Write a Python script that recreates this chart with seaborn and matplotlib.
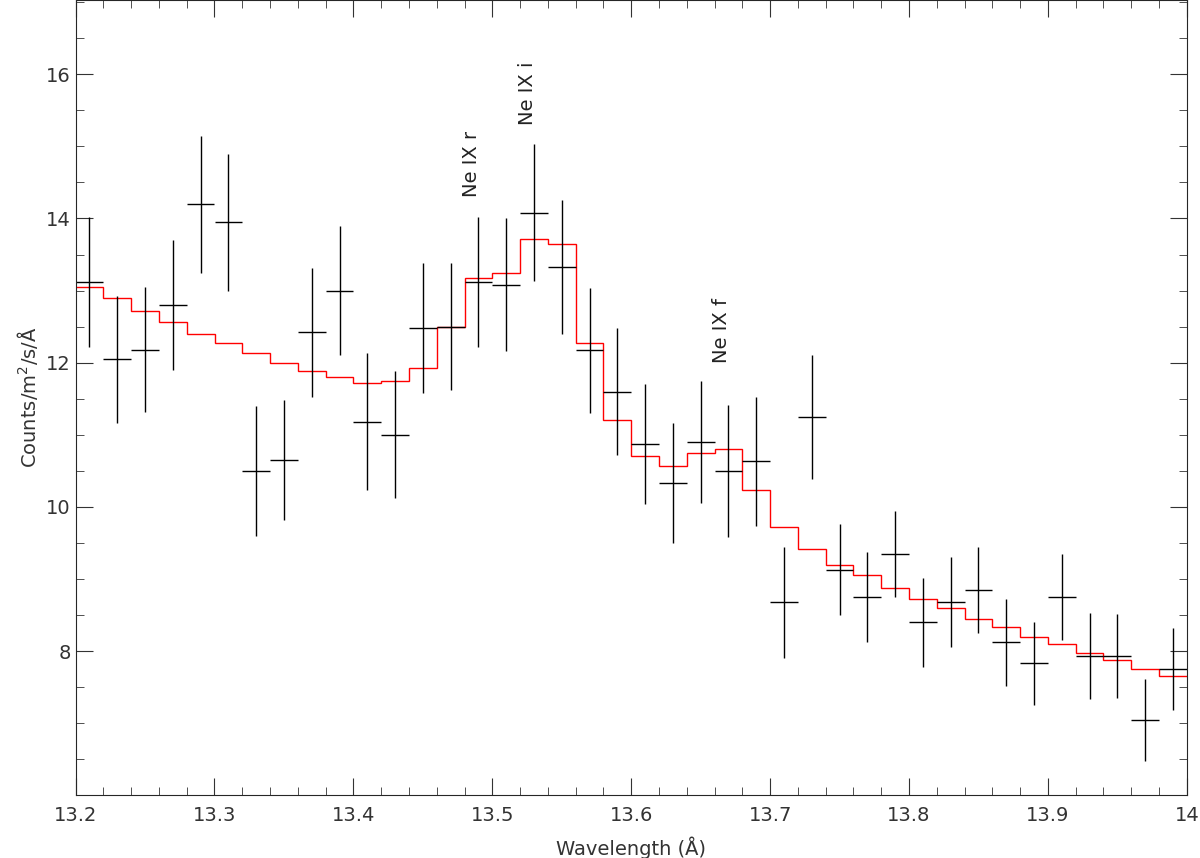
import numpy as np
import pandas as pd
import matplotlib
matplotlib.use("Agg")
import matplotlib.pyplot as plt
import seaborn as sns
from matplotlib.ticker import MultipleLocator

# --- data ---
wave = np.round(np.arange(13.21, 14.0, 0.02), 2)
flux = [13.12, 12.05, 12.18, 12.80, 14.20, 13.95, 10.50, 10.65, 12.42, 13.00,
        11.18, 11.00, 12.48, 12.50, 13.12, 13.08, 14.08, 13.33, 12.17, 11.60,
        10.87, 10.33, 10.90, 10.50, 10.63, 8.68, 11.25, 9.13, 8.75, 9.35,
        8.40, 8.68, 8.85, 8.12, 7.83, 8.75, 7.93, 7.93, 7.05, 7.75]
err = [0.90, 0.88, 0.87, 0.90, 0.95, 0.95, 0.90, 0.83, 0.90, 0.90,
       0.95, 0.88, 0.90, 0.88, 0.90, 0.92, 0.95, 0.93, 0.87, 0.88,
       0.83, 0.83, 0.85, 0.92, 0.90, 0.77, 0.86, 0.63, 0.63, 0.60,
       0.62, 0.62, 0.60, 0.60, 0.58, 0.60, 0.60, 0.58, 0.57, 0.57]
model = [13.05, 12.90, 12.72, 12.57, 12.40, 12.27, 12.13, 12.00, 11.88, 11.80,
         11.72, 11.75, 11.93, 12.50, 13.17, 13.25, 13.72, 13.65, 12.27, 11.20,
         10.70, 10.57, 10.75, 10.80, 10.23, 9.72, 9.42, 9.20, 9.05, 8.88,
         8.73, 8.60, 8.45, 8.33, 8.20, 8.10, 7.98, 7.88, 7.75, 7.65]
line_names = ["Ne IX r", "Ne IX i", "Ne IX f"]
line_wave = [13.485, 13.525, 13.665]
line_y = [14.3, 15.3, 12.0]

df = pd.DataFrame({"wave": wave, "flux": flux, "err": err, "model": model})

sns.set_style("ticks")
plt.rcParams["font.family"] = ["DejaVu Sans"]
fig, ax = plt.subplots(figsize=(12, 8.58), dpi=100)
fig.subplots_adjust(left=0.063, right=0.989, top=1.0, bottom=0.073)

# model as step histogram
edges = np.append(df["wave"] - 0.01, df["wave"].iloc[-1] + 0.01)
ax.stairs(df["model"], edges, color="red", lw=1, baseline=None)

# data crosses
ax.errorbar(df["wave"], df["flux"], xerr=0.01, yerr=df["err"], fmt="none",
            ecolor="black", elinewidth=1)

for name, x, y in zip(line_names, line_wave, line_y):
    ax.text(x, y, name, rotation=90, ha="center", va="bottom", fontsize=14,
            color="#222222")

ax.set_xlim(13.2, 14.0)
ax.set_ylim(6.0, 17.03)
ax.xaxis.set_minor_locator(MultipleLocator(0.02))
ax.yaxis.set_minor_locator(MultipleLocator(0.5))
ax.set_xticks(np.arange(13.2, 14.01, 0.1))
ax.set_xticklabels(["13.2", "13.3", "13.4", "13.5", "13.6", "13.7", "13.8", "13.9", "14"])
ax.set_yticks([8, 10, 12, 14, 16])
ax.tick_params(which="both", direction="in", top=True, right=True, labelsize=14,
               colors="#333333")
ax.tick_params(axis="x", pad=8)
ax.tick_params(which="major", length=12)
ax.tick_params(which="minor", length=6)
for s in ax.spines.values():
    s.set_linewidth(0.8)
ax.set_xlabel("Wavelength (Å)", fontsize=14, color="#333333", labelpad=8)
ax.set_ylabel("Counts/m$^2$/s/Å", fontsize=14, color="#333333")

fig.savefig("out.png", dpi=100)
